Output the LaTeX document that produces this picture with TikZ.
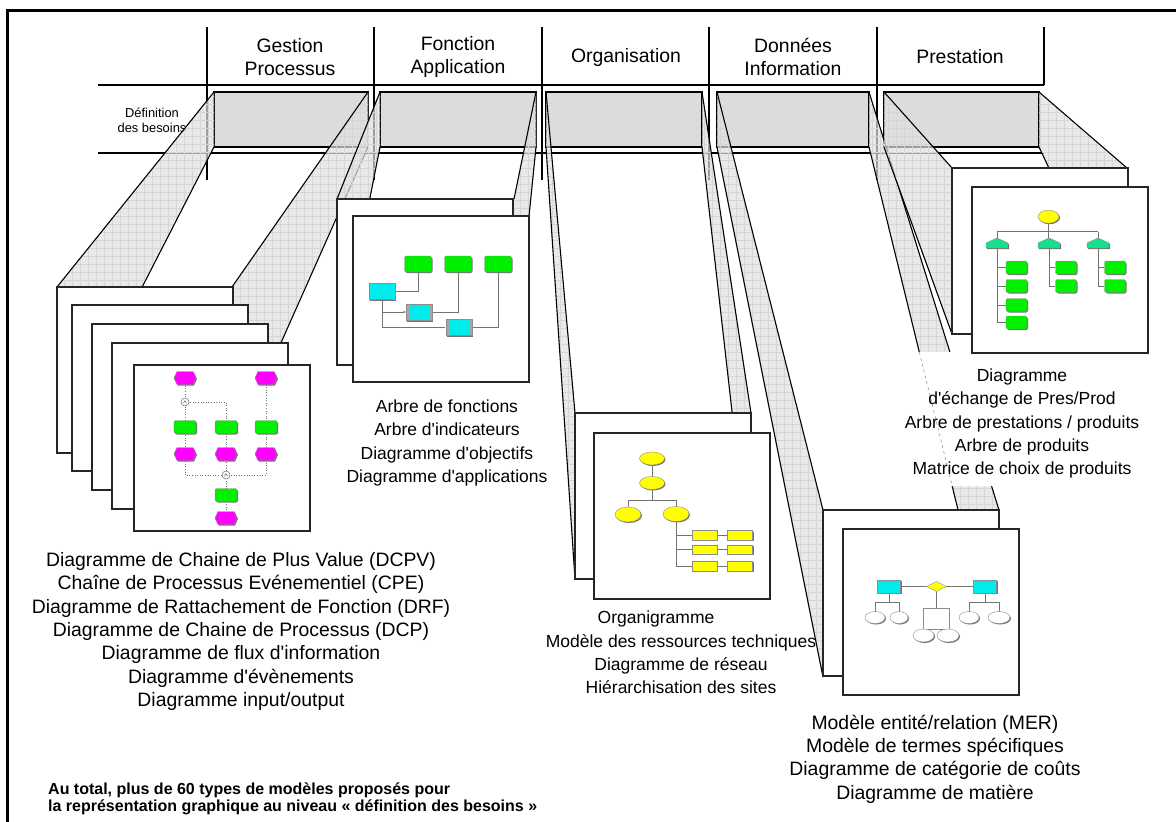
\documentclass[tikz,border=0pt]{standalone}
\usepackage{fontspec}
\setmainfont{Liberation Sans}
\usetikzlibrary{arrows.meta}
\definecolor{boxgray}{RGB}{220,220,220}
\definecolor{evmag}{RGB}{255,0,255}
\definecolor{fngreen}{RGB}{0,240,0}
\definecolor{apcyan}{RGB}{0,235,235}
\definecolor{orgyel}{RGB}{255,255,0}
\definecolor{mintgr}{RGB}{20,225,140}
\newcommand\q{\textquotesingle}
\newcommand\shface[4]{%
  \fill[facefill] #1--#2--#3--#4--cycle;
  \begin{scope}
    \clip #1--#2--#3--#4--cycle;
    \draw[facegrid] (0,822) grid (1176,0);
  \end{scope}
  \draw[faceedge] #1--#4 #2--#3;}
\newcommand\shaft[6]{%
  \shface{(#1,92)}{(#1,147)}{(#3,#6)}{(#3,#4)}%
  \shface{(#2,92)}{(#2,147)}{(#5,#6)}{(#5,#4)}}
\newcommand\sheet[2]{\draw[sheetsty] (#1,#2) rectangle ++(176,166);}
\newcommand\rbox[5]{%
  \fill[black!55,rounded corners=2pt] (#1-#3/2+1,#2-#4/2+1) rectangle (#1+#3/2+1,#2+#4/2+1);
  \draw[fill=#5,draw=black!45,line width=0.4,rounded corners=2pt] (#1-#3/2,#2-#4/2) rectangle (#1+#3/2,#2+#4/2);}
\newcommand\sqbox[5]{%
  \fill[black!55] (#1-#3/2+1,#2-#4/2+1) rectangle (#1+#3/2+1,#2+#4/2+1);
  \draw[fill=#5,draw=black!45,line width=0.4] (#1-#3/2,#2-#4/2) rectangle (#1+#3/2,#2+#4/2);}
\newcommand\yel[5]{%
  \fill[black!55] (#1+1,#2+1) ellipse [x radius=#3pt, y radius=#4pt];
  \draw[fill=#5,draw=black!45,line width=0.4] (#1,#2) ellipse [x radius=#3pt, y radius=#4pt];}
\newcommand\hexev[2]{%
  \fill[black!55] (#1-10,#2+1)--(#1-7,#2-5.5)--(#1+9,#2-5.5)--(#1+12,#2+1)--(#1+9,#2+7.5)--(#1-7,#2+7.5)--cycle;
  \draw[fill=evmag,draw=black!45,line width=0.4] (#1-11,#2)--(#1-8,#2-6.5)--(#1+8,#2-6.5)--(#1+11,#2)--(#1+8,#2+6.5)--(#1-8,#2+6.5)--cycle;}
\newcommand\abox[2]{%
  \fill[black!55] (#1-12,#2-7) rectangle (#1+14,#2+9.5);
  \draw[fill=apcyan,draw=black!45,line width=0.4] (#1-13,#2-8) rectangle (#1+13,#2+8.5);
  \draw[black!35,line width=0.3] (#1-11,#2-8)--(#1-11,#2+8.5) (#1+11,#2-8)--(#1+11,#2+8.5);}
\newcommand\conn[2]{%
  \draw[fill=white,draw=black!60,line width=0.5] (#1,#2) circle [radius=4pt];
  \draw[black!70,line width=0.4] (#1-1.6,#2+1.2)--(#1,#2-1.4)--(#1+1.6,#2+1.2);}
\newcommand\trap[2]{%
  \fill[black!55] (#1-10,#2+6)--(#1-10,#2+1)--(#1+1,#2-4)--(#1+12,#2+1)--(#1+12,#2+6)--cycle;
  \draw[fill=mintgr,draw=black!45,line width=0.4] (#1-11,#2+5)--(#1-11,#2)--(#1,#2-5)--(#1+11,#2)--(#1+11,#2+5)--cycle;}
\newcommand\dmd[2]{%
  \draw[fill=orgyel,draw=black!45,line width=0.4] (#1-10,#2)--(#1,#2-5)--(#1+10,#2)--(#1,#2+5)--cycle;}
\begin{document}
\begin{tikzpicture}[x=1pt,y=-1pt,
  hline/.style={black, line width=1.3},
  backbox/.style={fill=boxgray, draw=black, line width=1.6},
  facefill/.style={fill=black!12, fill opacity=0.7},
  facegrid/.style={black!16, line width=0.25, step=8pt},
  faceedge/.style={black, line width=1.1},
  sheetsty/.style={fill=white, draw=black!85, line width=1.4},
  hdr/.style={font=\fontsize{19.4}{22.7}\selectfont, align=center, inner sep=0},
  lst/.style={font=\fontsize{19.4}{23.3}\selectfont, align=center, inner sep=0},
  lstsm/.style={font=\fontsize{17.5}{23.3}\selectfont, align=center, inner sep=0},
  deflbl/.style={font=\fontsize{12.9}{14.7}\selectfont, align=center, inner sep=0},
  notetxt/.style={font=\fontsize{16}{17.3}\selectfont\bfseries, align=left, inner sep=0},
  mline/.style={black!55, line width=0.55},
  mdot/.style={black!55, line width=0.6, dotted}]
\useasboundingbox (0,0) rectangle (1176,822);
% frame
\draw[line width=3] (7.7,822) -- (7.7,10.5) -- (1176,10.5);
% header grid
\draw[hline] (97.6,85) -- (1044,85);
\draw[hline] (97.6,153) -- (1044,153);
\foreach \x in {207,374,542,709,877} \draw[hline] (\x,27) -- (\x,180);
\draw[hline] (1044,27) -- (1044,85);
% back boxes
\foreach \a/\b in {214/368,380/536,546/702,717/869,884/1039}
  \draw[backbox] (\a,92) rectangle (\b,147);
% header texts
\node[hdr] (hGP) at (290,57) {Gestion\\Processus};
\node[hdr] (hFA) at (458,57) {Fonction\\Application};
\node[hdr] (hOR) at (626,57) {Organisation};
\node[hdr] (hDI) at (793,57) {Données\\Information};
\node[hdr] (hPR) at (960,57) {Prestation};
\node[deflbl] (def) at (152,120) {Définition\\des besoins};
% shafts
\shaft{214}{368}{57}{287}{232}{453}
\shaft{380}{536}{337}{199}{514}{365}
\shaft{546}{702}{575}{413}{751}{579}
\shaft{717}{869}{823}{510}{999}{677}
\shaft{884}{1039}{952}{168}{1127}{334}
% white background of the Prestation list
\fill[white] (918,352) -- (1012,352) -- (1012,486) -- (951,486) -- cycle;
\draw[black!45, dashed, line width=0.5] (919.3,352) -- (952.2,486);
% sheets
\sheet{57}{287}\sheet{72}{305}\sheet{92}{324}\sheet{112}{343}\sheet{134}{365}
\sheet{337}{199}\sheet{353}{216}
\sheet{575}{413}\sheet{594}{433}
\sheet{823}{510}\sheet{843}{529}
\sheet{952}{168}\sheet{972}{187}
% miniature 1: event-driven process chain
\draw[mdot] (185,378) -- (185,475) -- (266,475) -- (266,378);
\draw[mdot] (185,402) -- (226,402) -- (226,518);
\hexev{185}{378}\hexev{266}{378}\hexev{185}{454}\hexev{226}{454}\hexev{266}{454}\hexev{226}{518}
\rbox{185}{427}{22}{13}{fngreen}\rbox{226}{427}{22}{13}{fngreen}
\rbox{266}{427}{22}{13}{fngreen}\rbox{226}{495}{22}{13}{fngreen}
\conn{185}{402}\conn{226}{475}
% miniature 2: function / application
\draw[mline] (395,291) -- (418,291) -- (418,272);
\draw[mline] (432,312) -- (458,312) -- (458,272);
\draw[mline] (471,327) -- (498,327) -- (498,272);
\draw[mline] (382,299) -- (382,327) -- (445,327);
\draw[mline,-{Stealth[length=3pt]}] (382,312) -- (406,312);
\draw[mline] (498,272) -- (498,276) (505,271) -- (512,271);
\rbox{418}{264}{27}{16}{fngreen}\rbox{458}{264}{27}{16}{fngreen}\rbox{498}{264}{27}{16}{fngreen}
\abox{382}{291}\abox{419}{312}\abox{459}{327}
% miniature 3: organigram
\draw[mline] (652,458) -- (652,500) (628,500) -- (676,500) (628,500) -- (628,514) (676,500) -- (676,566);
\draw[mline] (676,535) -- (692,535) (676,549.5) -- (692,549.5) (676,566) -- (692,566);
\draw[mline] (717,535) -- (727,535) (717,549.5) -- (727,549.5) (717,566) -- (727,566);
\yel{652}{458.5}{12.5}{6.5}{orgyel}\yel{652}{483}{12.5}{6.5}{orgyel}
\yel{628}{514.5}{13}{7.5}{orgyel}\yel{676}{514}{13}{7.5}{orgyel}
\sqbox{704.5}{535.3}{25}{9.5}{orgyel}\sqbox{704.5}{549.5}{25}{9.5}{orgyel}\sqbox{704.5}{566}{25}{9.5}{orgyel}
\sqbox{740}{535.3}{25}{9.5}{orgyel}\sqbox{740}{549.5}{25}{9.5}{orgyel}\sqbox{740}{566}{25}{9.5}{orgyel}
% miniature 4: entity / relationship
\draw[mline] (889,586.5) -- (985,586.5);
\draw[mline] (889,593) -- (889,602) (875,602) -- (899,602) (875,602) -- (875,612) (899,602) -- (899,612);
\draw[mline] (936.5,591) -- (936.5,608);
\draw[black!45, line width=0.4] (923,608) rectangle (949,629);
\draw[mline] (985,593) -- (985,602) (969,602) -- (999,602) (969,602) -- (969,612) (999,602) -- (999,612);
\sqbox{889}{586.5}{23}{13}{apcyan}\sqbox{985}{586.5}{23}{13}{apcyan}
\dmd{936.5}{586.5}
\yel{875}{617.5}{10}{6}{white}\yel{899}{617.5}{9}{6}{white}
\yel{923.5}{635.5}{10.5}{6.5}{white}\yel{948}{635.5}{11}{6.5}{white}
\yel{969}{617.5}{10}{6}{white}\yel{999}{617.5}{11}{6}{white}
% miniature 5: service tree
\draw[mline] (1048.5,223) -- (1048.5,238) (997,231.7) -- (1098,231.7) (997,231.7) -- (997,238) (1098,231.7) -- (1098,238);
\draw[mline] (997,248) -- (997,322.5) (997,267.5) -- (1006,267.5) (997,286) -- (1006,286) (997,305) -- (1006,305) (997,322.5) -- (1006,322.5);
\draw[mline] (1049,248) -- (1049,286) (1049,267.5) -- (1055,267.5) (1049,286) -- (1055,286);
\draw[mline] (1098,248) -- (1098,286) (1098,267.5) -- (1104,267.5) (1098,286) -- (1104,286);
\yel{1048.5}{216.7}{10.5}{6.5}{orgyel}
\trap{997}{243}\trap{1049}{243}\trap{1098}{243}
\rbox{1016.5}{267.5}{21}{13}{fngreen}\rbox{1016.5}{286}{21}{13}{fngreen}
\rbox{1016.5}{305}{21}{13}{fngreen}\rbox{1016.5}{322.5}{21}{13}{fngreen}
\rbox{1066}{267.5}{21}{13}{fngreen}\rbox{1066}{286}{21}{13}{fngreen}
\rbox{1115}{267.5}{21}{13}{fngreen}\rbox{1115}{286}{21}{13}{fngreen}
% lists
\node[lst] (l1) at (241,631.5) {Diagramme de Chaine de Plus Value (DCPV)\\Chaîne de Processus Evénementiel (CPE)\\Diagramme de Rattachement de Fonction (DRF)\\Diagramme de Chaine de Processus (DCP)\\Diagramme de flux d\q information\\Diagramme d\q évènements\\Diagramme input/output};
\node[lstsm] (l2) at (447,443) {Arbre de fonctions\\Arbre d\q indicateurs\\Diagramme d\q objectifs\\Diagramme d\q applications};
\node[lstsm] (l3) at (681,652.5) {Organigramme\hspace*{50pt}\\Modèle des ressources techniques\\Diagramme de réseau\\Hiérarchisation des sites};
\node[lst] (l4) at (935,759) {Modèle entité/relation (MER)\\Modèle de termes spécifiques\\Diagramme de catégorie de coûts\\Diagramme de matière};
\node[lstsm] (l5) at (1022,423.5) {Diagramme\\d\q échange de Pres/Prod\\Arbre de prestations / produits\\Arbre de produits\\Matrice de choix de produits};
\node[notetxt, anchor=west] (note) at (48,798.5) {Au total, plus de 60 types de modèles proposés pour\\la représentation graphique au niveau « définition des besoins »};
\end{tikzpicture}
\end{document}
